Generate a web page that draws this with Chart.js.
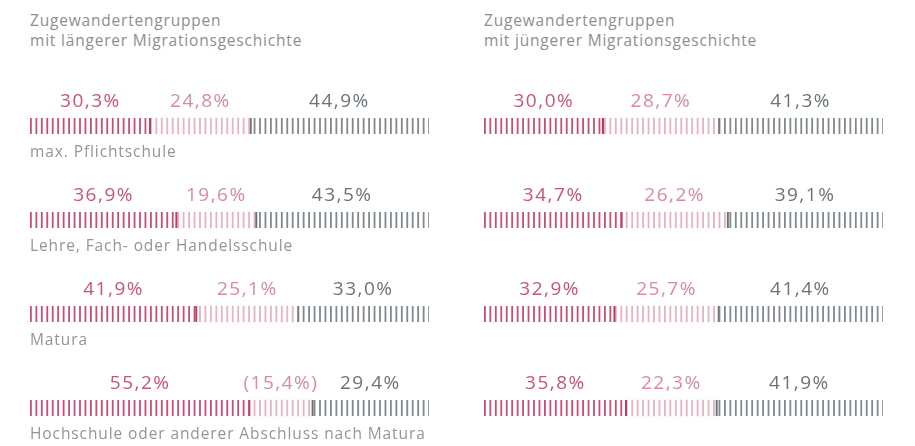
<!DOCTYPE html>
<html lang="de">
<head>
<meta charset="utf-8">
<script src="https://cdn.jsdelivr.net/npm/chart.js@4"></script>
<style>
  html, body { margin: 0; padding: 0; background: #fff; overflow: hidden; }
  #wrap { position: relative; width: 915px; height: 446px; }
  canvas { position: absolute; top: 0; }
  .title {
    position: absolute; top: 10px;
    font-family: "Open Sans", sans-serif; font-size: 15.5px; line-height: 20px;
    color: #8e8e8e; letter-spacing: 0.8px;
  }
</style>
</head>
<body>
<div id="wrap">
  <div class="title" style="left:30px">Zugewandertengruppen<br>mit längerer Migrationsgeschichte</div>
  <div class="title" style="left:484px">Zugewandertengruppen<br>mit jüngerer Migrationsgeschichte</div>
  <canvas id="left" width="457" height="446" style="left:0"></canvas>
  <canvas id="right" width="458" height="446" style="left:457px"></canvas>
</div>
<script>
// education levels (labels shown only under the left panel)
const categories = [
  'max. Pflichtschule',
  'Lehre, Fach- oder Handelsschule',
  'Matura',
  'Hochschule oder anderer Abschluss nach Matura'
];

// longer migration history
const leftDark  = [30.3, 36.9, 41.9, 55.2];
const leftLight = [24.8, 19.6, 25.1, 15.4];
const leftGray  = [44.9, 43.5, 33.0, 29.4];
const leftParen = [false, false, false, true]; // value shown in brackets

// more recent migration history
const rightDark  = [30.0, 34.7, 32.9, 35.8];
const rightLight = [28.7, 26.2, 25.7, 22.3];
const rightGray  = [41.3, 39.1, 41.4, 41.9];
const rightParen = [false, false, false, false];

const COLORS = {
  dark:  { stripe: '#cb4d75', text: '#c95572', edge: '#bb3a63' },
  light: { stripe: '#e8b2be', text: '#d98b9d', edge: null },
  gray:  { stripe: '#808990', text: '#6a737b', edge: '#666f76' }
};

// vertical hatch pattern, period ~5.45px, anchored to the bar start
function stripes(ctx, color, offset) {
  const c = document.createElement('canvas');
  c.width = 60; c.height = 4;
  const g = c.getContext('2d');
  g.fillStyle = color;
  for (let i = 0; i < 11; i++) {
    g.fillRect(i * 60 / 11, 0, 1.8, 4);
  }
  const p = ctx.createPattern(c, 'repeat');
  p.setTransform(new DOMMatrix().translate(offset, 0));
  return p;
}

function fmt(v, paren) {
  const s = v.toFixed(1).replace('.', ',') + '%';
  return paren ? '(' + s + ')' : s;
}

const labelPlugin = {
  id: 'segLabels',
  afterDatasetsDraw(chart, args, opts) {
    const ctx = chart.ctx;
    ctx.save();
    ctx.textAlign = 'center';
    ctx.textBaseline = 'middle';
    ctx.font = '19px "Open Sans", sans-serif';
    ctx.letterSpacing = '1.5px';
    chart.data.datasets.forEach((ds, di) => {
      const meta = chart.getDatasetMeta(di);
      meta.data.forEach((bar, i) => {
        const cx = (bar.x + bar.base) / 2;
        ctx.fillStyle = ds.textColor;
        const paren = di === 1 && opts.paren[i];
        ctx.fillText(fmt(ds.data[i], paren), cx, bar.y - 24);
      });
    });
    if (opts.showCats) {
      ctx.textAlign = 'left';
      ctx.font = '15.5px "Open Sans", sans-serif';
      ctx.letterSpacing = '0.9px';
      ctx.fillStyle = '#959595';
      const meta = chart.getDatasetMeta(0);
      meta.data.forEach((bar, i) => {
        ctx.fillText(chart.data.labels[i], chart.chartArea.left, bar.y + 27);
      });
    }
    ctx.restore();
  }
};

function makeChart(id, dark, light, gray, paren, padL, padR, showCats) {
  const canvas = document.getElementById(id);
  const ctx = canvas.getContext('2d');
  const mk = (label, data, col, border) => ({
    label,
    data,
    backgroundColor: stripes(ctx, col.stripe, padL),
    borderColor: col.edge || 'rgba(0,0,0,0)',
    borderWidth: border,
    borderSkipped: false,
    textColor: col.text,
    barThickness: 16,
    clip: false
  });
  return new Chart(ctx, {
    type: 'bar',
    data: {
      labels: categories,
      datasets: [
        mk('dark', dark, COLORS.dark, { right: 1.5, left: 0, top: 0, bottom: 0 }),
        mk('light', light, COLORS.light, 0),
        mk('gray', gray, COLORS.gray, { left: 1.5, right: 0, top: 0, bottom: 0 })
      ]
    },
    options: {
      indexAxis: 'y',
      responsive: false,
      animation: false,
      layout: { padding: { left: padL, right: padR, top: 126, bottom: 38 } },
      scales: {
        x: { stacked: true, min: 0, max: 100, display: false },
        y: { stacked: true, display: false, offset: false }
      },
      plugins: {
        legend: { display: false },
        tooltip: { enabled: false },
        segLabels: { paren, showCats }
      }
    },
    plugins: [labelPlugin]
  });
}

makeChart('left', leftDark, leftLight, leftGray, leftParen, 30, 28, true);
makeChart('right', rightDark, rightLight, rightGray, rightParen, 27, 32, false);
</script>
</body>
</html>
